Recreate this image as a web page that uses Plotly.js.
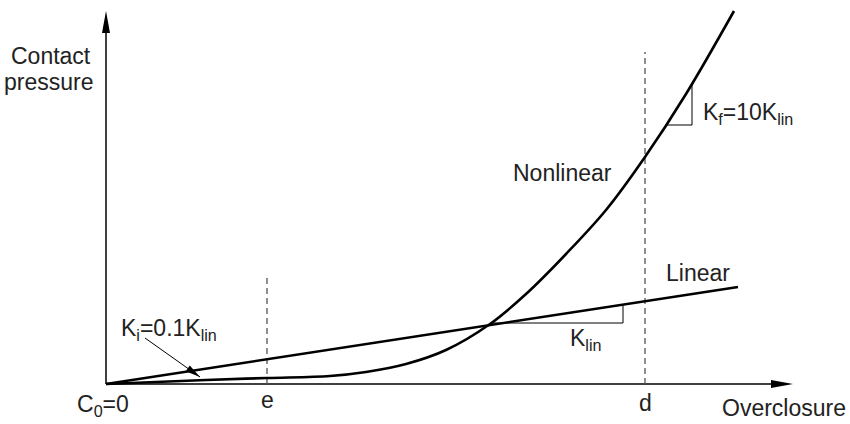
<!DOCTYPE html>
<html>
<head>
<meta charset="utf-8">
<script src="https://cdn.plot.ly/plotly-3.0.1.min.js"></script>
<style>html,body{margin:0;padding:0;background:#fff;}#chart{width:850px;height:424px;}</style>
</head>
<body>
<div id="chart"></div>
<script>
// Values (overclosure, contact pressure) in drawing units
var linearX = [0, 632];
var linearY = [0, 97];
var nonlinearX = [0, 100, 161, 224, 260, 300, 340, 384, 420, 460, 500, 539, 580, 628];
var nonlinearY = [0, 4, 6, 8, 12, 20, 34, 60, 90, 130, 174, 227, 290, 373];
var eValue = 161, eHeight = 108;
var dValue = 539, dHeight = 332;
var xAxisEnd = 687, yAxisEnd = 373;
var klinTriX = [384, 517, 517];
var klinTriY = [61, 61, 79];
var kfTriX = [561, 586, 586];
var kfTriY = [259, 259, 300];
var kiArrowTail = [39, 46], kiArrowTip = [94, 7];
var tickLabels = ['C<sub>0</sub>=0', 'e', 'd'];

var FONT = 'Liberation Sans, Arial, Helvetica, sans-serif';
var TXT = '#222';
var FS = 23;

function headPath(tail, tip, len, halfW) {
  var dx = tip[0] - tail[0], dy = tip[1] - tail[1];
  var L = Math.sqrt(dx*dx + dy*dy);
  var ux = dx / L, uy = dy / L, px = -uy, py = ux;
  var bx = tip[0] - ux*len, by = tip[1] - uy*len;
  return 'M' + tip[0] + ',' + tip[1] +
    ' L' + (bx + px*halfW) + ',' + (by + py*halfW) +
    ' L' + (bx - px*halfW) + ',' + (by - py*halfW) + ' Z';
}

var traces = [
  {x: [0, xAxisEnd - 10], y: [0, 0], mode: 'lines', line: {color: '#000', width: 1.5}},
  {x: [0, 0], y: [0, yAxisEnd - 10], mode: 'lines', line: {color: '#000', width: 1.5}},
  {x: [eValue, eValue], y: [0, eHeight], mode: 'lines', line: {color: '#555', width: 1.3, dash: '6px,4px'}},
  {x: [dValue, dValue], y: [0, dHeight], mode: 'lines', line: {color: '#555', width: 1.3, dash: '6px,4px'}},
  {x: klinTriX, y: klinTriY, mode: 'lines', line: {color: '#000', width: 1}},
  {x: kfTriX, y: kfTriY, mode: 'lines', line: {color: '#000', width: 1}},
  {x: linearX, y: linearY, mode: 'lines', line: {color: '#000', width: 2.6}},
  {x: nonlinearX, y: nonlinearY, mode: 'lines', line: {color: '#000', width: 2.6, shape: 'spline', smoothing: 1}},
  {x: [kiArrowTail[0], kiArrowTip[0]], y: [kiArrowTail[1], kiArrowTip[1]], mode: 'lines', line: {color: '#000', width: 1}}
];

function ann(text, x, y, xanchor) {
  return {text: text, x: x, y: y, xref: 'x', yref: 'y', showarrow: false,
    xanchor: xanchor || 'center', yanchor: 'middle', font: {family: FONT, size: FS, color: TXT}};
}

var layout = {
  width: 850, height: 424,
  margin: {l: 0, r: 0, t: 0, b: 0},
  paper_bgcolor: '#fff', plot_bgcolor: '#fff',
  showlegend: false,
  xaxis: {range: [-106, 744], visible: false, fixedrange: true},
  yaxis: {range: [-40, 384], visible: false, fixedrange: true},
  shapes: [
    {type: 'path', xref: 'x', yref: 'y', path: headPath([0, 0], [xAxisEnd, 0], 22, 4), fillcolor: '#000', line: {width: 0}},
    {type: 'path', xref: 'x', yref: 'y', path: headPath([0, 0], [0, yAxisEnd], 22, 4), fillcolor: '#000', line: {width: 0}},
    {type: 'path', xref: 'x', yref: 'y', path: headPath(kiArrowTail, kiArrowTip, 15, 3.5), fillcolor: '#000', line: {width: 0}}
  ],
  annotations: [
    ann('Contact', -13, 328, 'right'),
    ann('pressure', -11, 302, 'right'),
    ann('Nonlinear', 456, 211),
    ann('Linear', 592, 111),
    ann('K<sub>lin</sub>', 479, 45),
    ann('K<sub>f</sub>=10K<sub>lin</sub>', 642, 271),
    ann('K<sub>i</sub>=0.1K<sub>lin</sub>', 63, 55),
    ann(tickLabels[0], -3, -21),
    ann(tickLabels[1], eValue, -16),
    ann(tickLabels[2], dValue, -19),
    ann('Overclosure', 678, -24)
  ]
};

Plotly.newPlot('chart', traces, layout, {displayModeBar: false});
</script>
</body>
</html>
